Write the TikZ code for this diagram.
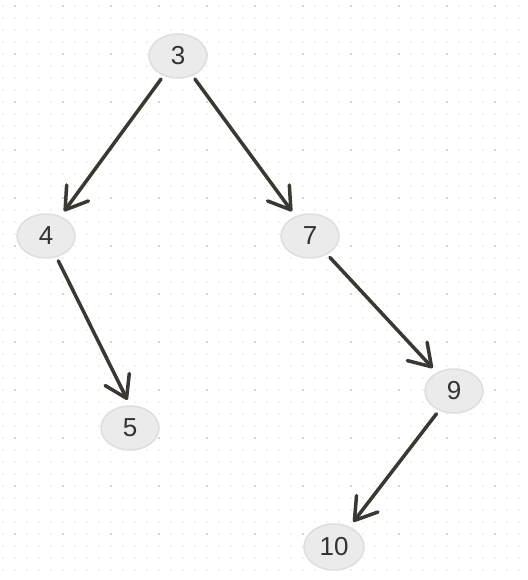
\documentclass[tikz,border=0pt]{standalone}
\usepackage{fontspec}
\setmainfont{Liberation Sans}
\usetikzlibrary{arrows.meta,shapes.geometric}

\definecolor{inkline}{HTML}{3B3834}
\definecolor{nodefill}{HTML}{EBEBEB}
\definecolor{nodeedge}{HTML}{DEDEDE}
\definecolor{nodetext}{HTML}{333333}
\definecolor{dotminor}{HTML}{E4E4E4}
\definecolor{dotmajor}{HTML}{CACACA}

\tikzset{
  treenode/.style={ellipse, draw=nodeedge, line width=1.5pt, fill=nodefill,
    minimum width=58pt, minimum height=44pt, inner sep=0pt,
    text=nodetext, font=\fontsize{26}{30}\selectfont},
  link/.style={draw=inkline, line width=3.5pt, line cap=round, line join=round,
    -{Straight Barb[length=21pt,width=27pt,round]},
    shorten <=4pt, shorten >=6pt}
}

\begin{document}
\begin{tikzpicture}[x=1pt,y=-1pt]
  \useasboundingbox (0,0) rectangle (527,580);
  \fill[white] (0,0) rectangle (527,580);

  % dotted canvas grid: fine dots every 12, stronger dots every 48
  \foreach \gx in {3,15,...,519} {
    \foreach \gy in {6,18,...,578} {
      \fill[dotminor] (\gx,\gy) circle (0.8pt);
    }
  }
  \foreach \gx in {15,63,...,519} {
    \foreach \gy in {6,54,...,578} {
      \fill[dotmajor] (\gx,\gy) circle (1.1pt);
    }
  }

  % tree nodes
  \node[treenode] (n3)  at (178,56)  {3};
  \node[treenode] (n4)  at (46,236)  {4};
  \node[treenode] (n7)  at (310,236) {7};
  \node[treenode] (n5)  at (130,428) {5};
  \node[treenode] (n9)  at (454,391) {9};
  \node[treenode, minimum width=60pt, minimum height=46pt] (n10) at (334,547) {10};

  % edges
  \draw[link] (n3) -- (n4);
  \draw[link] (n3) -- (n7);
  \draw[link] (n4) -- (n5.north);
  \draw[link] (n7) -- (n9);
  \draw[link] (n9) -- (n10);
\end{tikzpicture}
\end{document}
